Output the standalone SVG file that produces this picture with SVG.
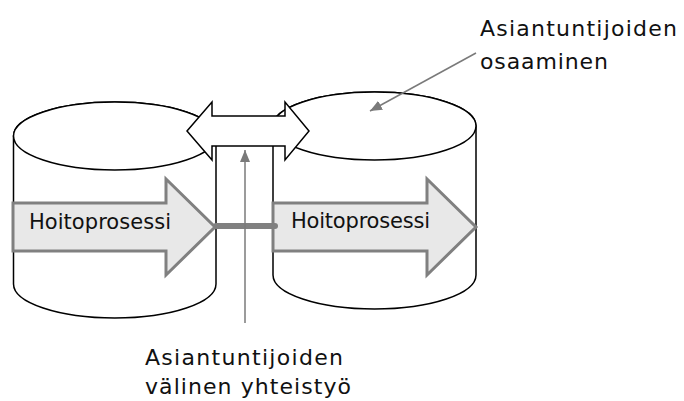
<svg xmlns="http://www.w3.org/2000/svg" width="684" height="401" viewBox="0 0 684 401">
  <defs>
    <marker id="tip" viewBox="0 0 12 10" refX="12" refY="5" markerWidth="12" markerHeight="10" markerUnits="userSpaceOnUse" orient="auto">
      <path d="M0,0 L12,5 L0,10 Z" fill="#7a7a7a"/>
    </marker>
  </defs>
  <style>
    .cyl { fill: #ffffff; stroke: #000000; stroke-width: 1.5; }
    .flow { fill: #e8e8e8; stroke: #808080; stroke-width: 3; stroke-linejoin: miter; }
    .label { font-family: "DejaVu Sans", "Open Sans", sans-serif; font-size: 22px; fill: #111111; }
    .proc { font-family: "DejaVu Sans", "Open Sans", sans-serif; font-size: 21px; fill: #111111; }
    .pointer { fill: none; stroke: #7a7a7a; stroke-width: 1.5; }
  </style>
  <rect width="684" height="401" fill="#ffffff"/>

  <!-- left cylinder -->
  <g id="cylinder-left">
    <path class="cyl" d="M13.5,136 L13.5,284 A101.25,34 0 0 0 216,284 L216,136 A101.25,34 0 0 0 13.5,136 Z"/>
    <ellipse class="cyl" cx="114.75" cy="136" rx="101.25" ry="34"/>
  </g>

  <!-- right cylinder -->
  <g id="cylinder-right">
    <path class="cyl" d="M273,126 L273,275 A101.5,34 0 0 0 476,275 L476,126 A101.5,34 0 0 0 273,126 Z"/>
    <ellipse class="cyl" cx="374.5" cy="126" rx="101.5" ry="34"/>
  </g>

  <!-- process arrows -->
  <g id="process-left">
    <polygon class="flow" points="13,203 166,203 166,179 215,227 166,275 166,251 13,251"/>
    <text class="proc" x="29" y="229" textLength="142" lengthAdjust="spacing">Hoitoprosessi</text>
  </g>
  <g id="process-right">
    <polygon class="flow" points="273,203 427,203 427,179 476,227 427,275 427,251 273,251"/>
    <text class="proc" x="291" y="228" textLength="139" lengthAdjust="spacing">Hoitoprosessi</text>
  </g>

  <!-- two-way exchange between the cylinders -->
  <g id="exchange">
    <polygon fill="#ffffff" stroke="#000000" stroke-width="1.5" points="187,131 212,102 212,116 285,116 285,102 309,131 285,160 285,146 212,146 212,160"/>
  </g>

  <!-- connectors -->
  <g id="connectors">
    <line x1="216" y1="226" x2="275" y2="226" stroke="#808080" stroke-width="6" stroke-linecap="round"/>
    <line class="pointer" x1="245" y1="323" x2="245" y2="150" marker-end="url(#tip)"/>
    <line class="pointer" x1="476" y1="53" x2="370" y2="111" marker-end="url(#tip)"/>
  </g>

  <!-- labels -->
  <g id="label-expertise">
    <text class="label" x="480" y="36" textLength="197" lengthAdjust="spacing">Asiantuntijoiden</text>
    <text class="label" x="480" y="69" textLength="128" lengthAdjust="spacing">osaaminen</text>
  </g>
  <g id="label-cooperation">
    <text class="label" x="145" y="365" textLength="198" lengthAdjust="spacing">Asiantuntijoiden</text>
    <text class="label" x="145" y="394" textLength="206" lengthAdjust="spacing">välinen yhteistyö</text>
  </g>
</svg>
